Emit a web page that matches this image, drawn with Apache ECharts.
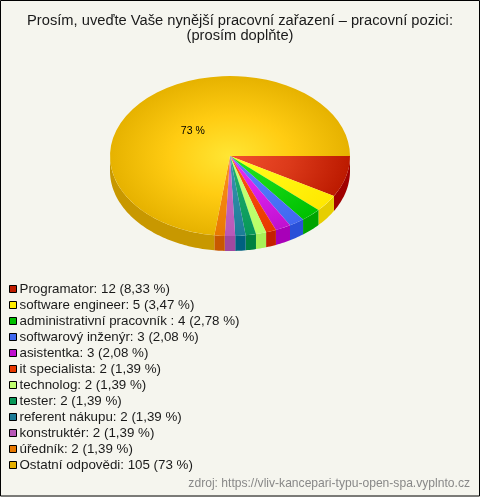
<!DOCTYPE html>
<html><head><meta charset="utf-8">
<style>html,body{margin:0;padding:0;background:#f5f5ee}#c{width:480px;height:497px}</style>
<script src="https://cdn.jsdelivr.net/npm/echarts@6/dist/echarts.min.js"></script>
</head><body><div id="c"></div>
<script>
const categories = ['Programator','software engineer','administrativní pracovník ','softwarový inženýr','asistentka','it specialista','technolog','tester','referent nákupu','konstruktér','úředník','Ostatní odpovědi'];
const counts = [12,5,4,3,3,2,2,2,2,2,2,105];
const percents = ['8,33','3,47','2,78','2,08','2,08','1,39','1,39','1,39','1,39','1,39','1,39','73'];
const colorInner = ['#f2502e','#ffff20','#22e622','#5c82ff','#e830f8','#ff5a10','#c8ff78','#22b070','#3a98b0','#cc70cc','#ff9418','#ffe634'];
const colorMid   = ['#dc3a1a','#fff510','#12d412','#4e76f8','#d820e8','#f44808','#c0ff70','#14a464','#2c8aa4','#c264c2','#f48610','#ffcc12'];
const colorOuter = ['#bc1a00','#ffe800','#00c000','#4068f0','#c010d0','#e83800','#b8ff68','#089858','#1c7c98','#b858b8','#e87800','#e6b200'];
const colorSide  = ['#a00000','#e6ce00','#00a400','#2a50d8','#a800b8','#c42000','#a8f058','#008040','#006080','#a048a0','#c85800','#c89800'];
const colorKey   = ['#c01c00','#ffee00','#00c000','#4068f0','#c010d0','#e83800','#c0ff70','#089858','#1c7c98','#b858b8','#e87800','#e6b000'];

const CX = 230, CY = 156, RX = 120, RY = 80, DEPTH = 15;
const total = counts.reduce((a,b)=>a+b,0);
const starts = []; counts.reduce((a,b,i)=>{starts[i]=a;return a+b;},0);
const ang = v => v/total*Math.PI*2;

function renderSlice(i){
  return function(params, api){
    const a0 = ang(starts[i]), a1 = ang(starts[i]+api.value(0));
    const children = [];
    const s0 = Math.max(a0,0), s1 = Math.min(a1,Math.PI);
    if (s1 > s0){
      const top = [], bot = [];
      const n = Math.max(2,Math.ceil((s1-s0)/0.02));
      for (let k=0;k<=n;k++){
        const t = s0+(s1-s0)*k/n;
        top.push([CX+RX*Math.cos(t), CY+RY*Math.sin(t)]);
        bot.unshift([CX+RX*Math.cos(t), CY+DEPTH+RY*Math.sin(t)]);
      }
      children.push({type:'polygon',z2:1,shape:{points:top.concat(bot)},style:{fill:colorSide[i]}});
    }
    children.push({
      type:'sector', z2:2, x:CX, y:CY, scaleX:1, scaleY:RY/RX,
      shape:{cx:0,cy:0,r:RX,r0:0,startAngle:a0,endAngle:a1,clockwise:true},
      style:{fill:{type:'radial',x:0,y:0,r:RX,global:true,colorStops:[
        {offset:0,color:colorInner[i]},{offset:0.5,color:colorMid[i]},{offset:1,color:colorOuter[i]}]}}
    });
    if (i === counts.length-1){
      const m = (a0+a1)/2;
      children.push({type:'text',z2:3,x:CX+RX*0.47*Math.cos(m),y:CY+RY*0.42*Math.sin(m),
        style:{text:percents[i]+' %',fill:'#000',font:'10.5px "Liberation Sans"',align:'center',verticalAlign:'middle'}});
    }
    return {type:'group',children};
  };
}
const names = categories.map((c,i)=>c+': '+counts[i]+' ('+percents[i]+' %)');
const chart = echarts.init(document.getElementById('c'),null,{renderer:'canvas'});
chart.setOption({
  animation:false,
  backgroundColor:'#f5f5ee',
  title:{text:'Prosím, uveďte Vaše nynější pracovní zařazení – pracovní pozici:\n(prosím doplňte)',
    left:'center',top:8,
    textStyle:{fontFamily:'Liberation Sans',fontSize:14.7,fontWeight:'normal',color:'#1a1a1a',lineHeight:15}},
  legend:{orient:'vertical',left:9,top:281,itemWidth:7,itemHeight:7,itemGap:0,
    icon:'rect',selectedMode:false,padding:0,
    itemStyle:{borderColor:'#000',borderWidth:1},
    textStyle:{fontFamily:'Liberation Sans',fontSize:13.33,color:'#1a1a1a',padding:[0,0,0,-2],lineHeight:16,height:16},
    data:names},
  graphic:[
    {type:'rect',z:-1,shape:{x:0.5,y:0.5,width:479,height:495.5},style:{fill:'none',stroke:'#000',lineWidth:1}},
    {type:'text',right:10,top:478,style:{text:'zdroj: https://vliv-kancepari-typu-open-spa.vyplnto.cz',fill:'#888888',font:'12.1px "Liberation Sans"'}}
  ],
  series:names.map((n,i)=>({
    type:'custom',name:n,coordinateSystem:'none',
    itemStyle:{color:colorKey[i]},
    data:[[counts[i]]],renderItem:renderSlice(i),silent:true
  }))
});
</script></body></html>
